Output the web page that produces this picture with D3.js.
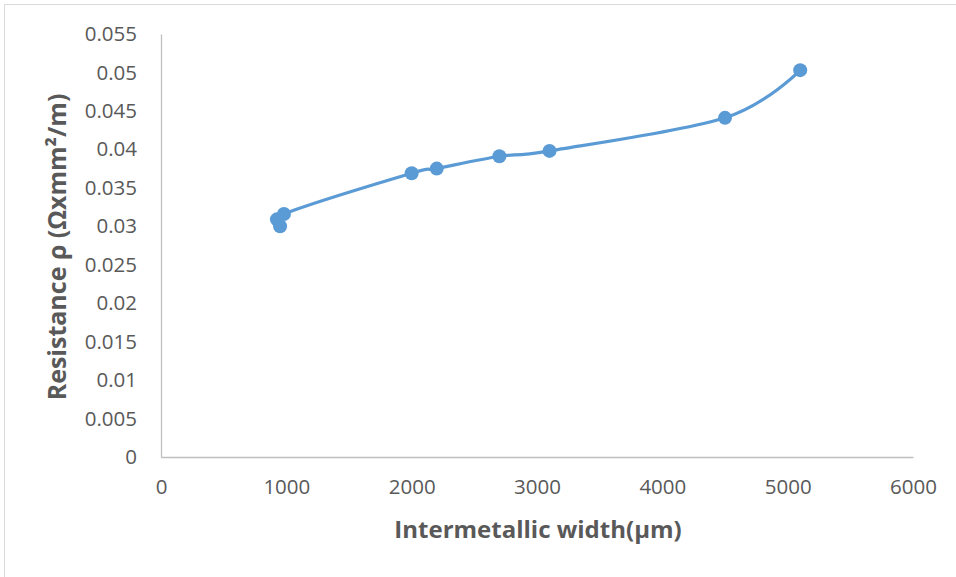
<!DOCTYPE html>
<html>
<head>
<meta charset="utf-8">
<script src="https://cdn.jsdelivr.net/npm/d3@7"></script>
<style>
  html, body { margin: 0; padding: 0; background: #ffffff; }
  svg { display: block; }
</style>
</head>
<body>
<svg id="chart" width="956" height="577"></svg>
<script>
// ---- data ----
const widths = [925, 950, 981, 2000, 2200, 2700, 3100, 4500, 5100];
const resistances = [0.0309, 0.0300, 0.0316, 0.0369, 0.0375, 0.0391, 0.0398, 0.0441, 0.0503];
const xTicks = [0, 1000, 2000, 3000, 4000, 5000, 6000];
const yTicks = [0, 0.005, 0.01, 0.015, 0.02, 0.025, 0.03, 0.035, 0.04, 0.045, 0.05, 0.055];
const xTitle = "Intermetallic width(μm)";
const yTitle = "Resistance ρ (Ωxmm²/m)";

// ---- layout ----
const svg = d3.select("#chart");
const textColor = "#595959";
const axisColor = "#bfbfbf";
const seriesColor = "#5b9bd5";
const font = "'Open Sans', 'Liberation Sans', sans-serif";

svg.append("rect")
  .attr("x", 4.5).attr("y", 4.5)
  .attr("width", 1200).attr("height", 1200)
  .attr("fill", "#ffffff")
  .attr("stroke", "#d9d9d9").attr("stroke-width", 1);

const x = d3.scaleLinear().domain([0, 6000]).range([161, 913]);
const y = d3.scaleLinear().domain([0, 0.055]).range([457, 34]);

// x axis
const gx = svg.append("g").attr("transform", `translate(0,${y(0)})`)
  .call(d3.axisBottom(x).tickValues(xTicks).tickSize(0).tickPadding(22).tickFormat(d => String(d)));
gx.select(".domain").attr("stroke", axisColor).attr("stroke-width", 1.3);
gx.selectAll("text").attr("fill", textColor).style("font-family", font).style("font-size", "20.5px");

// y axis
const gy = svg.append("g").attr("transform", `translate(${x(0)},0)`)
  .call(d3.axisLeft(y).tickValues(yTicks).tickSize(0).tickPadding(24).tickFormat(d => String(d)));
gy.select(".domain").attr("stroke", axisColor).attr("stroke-width", 1.3);
gy.selectAll("text").attr("fill", textColor).style("font-family", font).style("font-size", "20.5px");

// axis titles
svg.append("text")
  .attr("x", 538).attr("y", 528)
  .attr("text-anchor", "middle").attr("dominant-baseline", "central")
  .attr("fill", textColor)
  .style("font-family", font).style("font-weight", "bold").style("font-size", "24px")
  .text(xTitle);

svg.append("text")
  .attr("transform", `translate(56,247) rotate(-90)`)
  .attr("text-anchor", "middle").attr("dominant-baseline", "central")
  .attr("fill", textColor)
  .style("font-family", font).style("font-weight", "bold").style("font-size", "25px")
  .text(yTitle);

// series
const pts = widths.map((w, i) => [w, resistances[i]]);
const line = d3.line()
  .x(d => x(d[0])).y(d => y(d[1]))
  .curve(d3.curveCatmullRom.alpha(0));

svg.append("path")
  .datum(pts)
  .attr("d", line)
  .attr("fill", "none")
  .attr("stroke", seriesColor)
  .attr("stroke-width", 3.2)
  .attr("stroke-linecap", "round");

svg.append("g").selectAll("circle")
  .data(pts).join("circle")
  .attr("cx", d => x(d[0])).attr("cy", d => y(d[1]))
  .attr("r", 7)
  .attr("fill", seriesColor);
</script>
</body>
</html>
